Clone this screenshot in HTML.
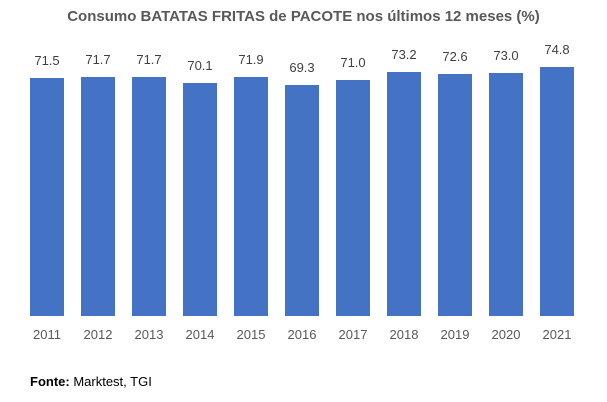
<!DOCTYPE html>
<html><head><style>
body{margin:0;width:607px;height:402px;background:#fff;font-family:"Liberation Sans",sans-serif;position:relative;overflow:hidden}
.t{position:absolute;top:8px;left:0;width:607px;text-align:center;font-weight:bold;font-size:15px;color:#595959}
.b{position:absolute;background:#4472c4;width:34px}
.v,.y{position:absolute;width:50px;text-align:center;font-size:13px;color:#404040}
.y{color:#595959}
.f{position:absolute;left:30px;top:374px;font-size:13px;color:#000}
</style></head><body>
<div class="t">Consumo BATATAS FRITAS de PACOTE nos últimos 12 meses (%)</div>
<div id="c"></div>
<div class="f"><b>Fonte:</b> Marktest, TGI</div>
<script>
var d=[71.5,71.7,71.7,70.1,71.9,69.3,71.0,73.2,72.6,73.0,74.8],h='';
for(var i=0;i<d.length;i++){var x=30+i*51,hh=Math.round(d[i]*3.33),tp=316-hh;
h+='<div class="b" style="left:'+x+'px;top:'+tp+'px;height:'+hh+'px"></div>';
h+='<div class="v" style="left:'+(x-8)+'px;top:'+(tp-25)+'px">'+d[i].toFixed(1)+'</div>';
h+='<div class="y" style="left:'+(x-8)+'px;top:327px">'+(2011+i)+'</div>';}
document.getElementById('c').innerHTML=h;
</script>
</body></html>
